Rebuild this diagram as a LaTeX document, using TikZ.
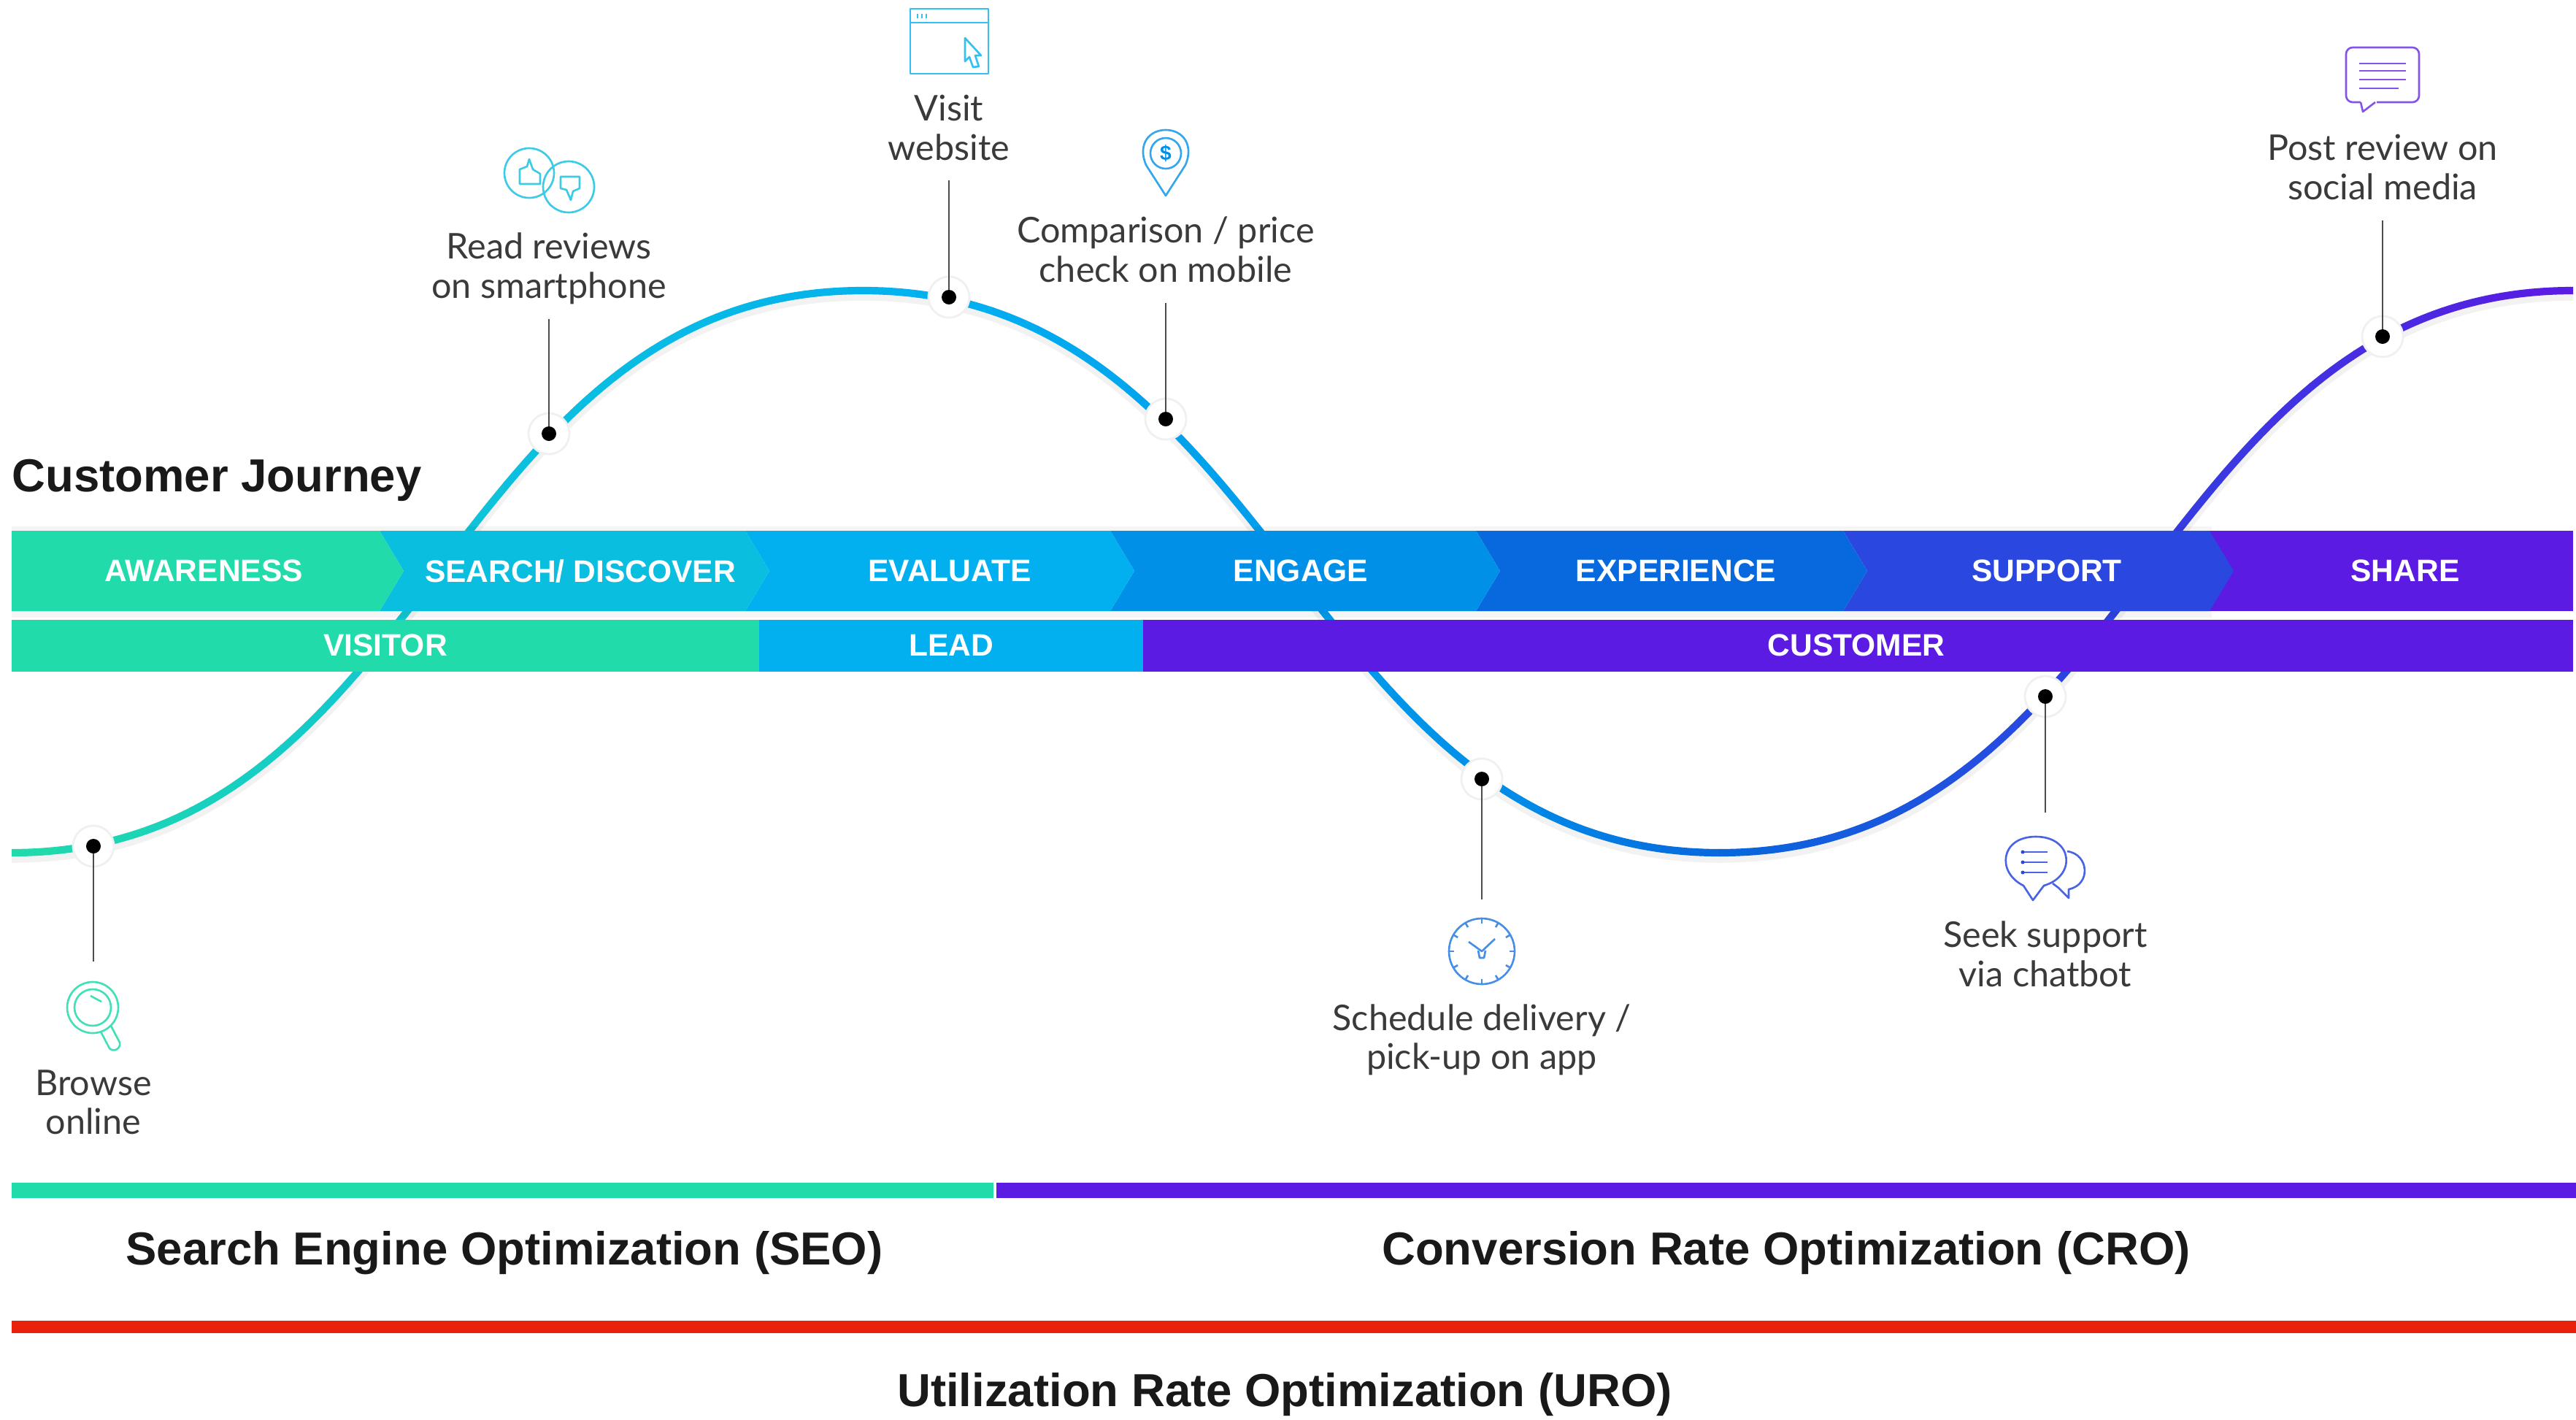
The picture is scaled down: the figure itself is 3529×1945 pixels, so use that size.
\documentclass[tikz,border=0pt]{standalone}
\usepackage{fontspec}
\setmainfont{Lato}
\newfontfamily\headfont{Liberation Sans}
\usetikzlibrary{arrows.meta,positioning}
\definecolor{cjgreen}{RGB}{33,219,170}
\definecolor{cjcyan}{RGB}{10,190,224}
\definecolor{cjsky}{RGB}{2,176,240}
\definecolor{cjazure}{RGB}{0,144,232}
\definecolor{cjblue}{RGB}{8,104,221}
\definecolor{cjindigo}{RGB}{42,71,224}
\definecolor{cjviolet}{RGB}{91,27,227}
\definecolor{cjred}{RGB}{232,32,12}
\definecolor{cjtext}{RGB}{58,58,58}
\tikzset{
	% curve
	cjcurve/.style   ={line width=2.9pt},
	cjleader/.style  ={line width=.7pt,draw=black!70},
	% dot
	cjhalo/.style    ={circle,fill=white,draw=black!6,line width=.8pt,minimum size=.56cm,inner sep=0pt},
	cjdot/.style     ={circle,fill=black,minimum size=.2cm,inner sep=0pt},
	% node
	cjstage/.style   ={text=white,font=\headfont\bfseries\fontsize{12.1}{14}\selectfont},
	cjlabel/.style   ={text=cjtext,align=center,font=\fontsize{13.8}{15.2}\selectfont},
	cjhead/.style    ={text=black!90,font=\headfont\bfseries\fontsize{18.05}{22}\selectfont},
	% icon
	cjicon/.style    ={line width=.75pt,line join=round}
}
\def\cjwave{(16,1168) .. controls (590,1168) and (610,398) .. (1182,398) .. controls (1755,398) and (1785,1168) .. (2356,1168) .. controls (2930,1168) and (2950,398) .. (3525,398)}
\begin{document}
\begin{tikzpicture}[x=.01cm,y=-.01cm]
	\useasboundingbox (0,0) rectangle (3529,1945);
	% wave behind the bars
	\draw[cjcurve,line width=5pt,black!5,yshift=-.05cm] \cjwave;
	\foreach \xa/\xb/\ca/\cb in {16/752/cjgreen/cjcyan,752/1300/cjcyan/cjsky,1300/2030/cjsky/cjazure,2030/2356/cjazure/cjblue,2356/2802/cjblue/cjindigo,2802/3525/cjindigo/cjviolet}{
		\foreach \i in {0,...,11}{
			\pgfmathsetmacro\xl{\xa+(\xb-\xa)*\i/12}
			\pgfmathsetmacro\xr{\xa+(\xb-\xa)*(\i+1)/12+1}
			\pgfmathsetmacro\pct{100*(\i+.5)/12}
			\colorlet{cjseg}{\cb!\pct!\ca}
			\begin{scope}
				\clip (\xl,0) rectangle (\xr,1945);
				\draw[cjcurve,cjseg] \cjwave;
			\end{scope}
		}
	}
	% stages, last one first so that each tip lies on the next
	\fill[black,fill opacity=.04] (16,721) rectangle (3030,846);
	\fill[cjviolet] (3027,727) -- (3525,727) -- (3525,837) -- (3027,837) -- cycle;
	\foreach \xa/\xb/\col in {2525/3027/cjindigo,2022/2525/cjblue,1521/2022/cjazure,1021/1521/cjsky,520/1021/cjcyan}{
		\fill[\col] (\xa,727) -- (\xb,727) -- ({\xb+33},782) -- (\xb,837) -- (\xa,837) -- ({\xa+33},782) -- cycle;
	}
	\fill[cjgreen] (16,727) -- (520,727) -- (553,782) -- (520,837) -- (16,837) -- cycle;
	\node[cjstage] (awareness) at (279,782) {AWARENESS};
	\node[cjstage] (search) at (795,782) {SEARCH/ DISCOVER};
	\node[cjstage] (evaluate) at (1301,782) {EVALUATE};
	\node[cjstage] (engage) at (1782,782) {ENGAGE};
	\node[cjstage] (experience) at (2296,782) {EXPERIENCE};
	\node[cjstage] (support) at (2804,782) {SUPPORT};
	\node[cjstage] (share) at (3295,782) {SHARE};
	% roles
	\fill[cjgreen] (16,849) rectangle (1040,920);
	\fill[cjsky] (1040,849) rectangle (1566,920);
	\fill[cjviolet] (1566,849) rectangle (3525,920);
	\node[cjstage] (visitor) at (528,884) {VISITOR};
	\node[cjstage] (lead) at (1303,884) {LEAD};
	\node[cjstage] (customer) at (2543,884) {CUSTOMER};
	% touch points
	\foreach \n/\x/\y in {browse/128/1159,read/752/594,visit/1300/407,compare/1597/574,schedule/2030/1067,seek/2802/954,post/3264/461}{
		\node[cjhalo] (halo\n) at (\x,\y) {};
	}
	\coordinate (endbrowse) at (128,1317);
	\coordinate (endread) at (752,437);
	\coordinate (endvisit) at (1300,247);
	\coordinate (endcompare) at (1597,415);
	\coordinate (endschedule) at (2030,1232);
	\coordinate (endseek) at (2802,1113);
	\coordinate (endpost) at (3264,302);
	\foreach \n in {browse,read,visit,compare,schedule,seek,post}{
		\draw[cjleader] (halo\n.center) -- (end\n);
		\node[cjdot] (dot\n) at (halo\n) {};
	}
	\node[cjlabel] (lblbrowse) at (128,1510) {Browse\\online};
	\node[cjlabel] (lblread) at (752,368) {Read reviews\\on smartphone};
	\node[cjlabel] (lblvisit) at (1300,175) {Visit\\website};
	\node[cjlabel] (lblcompare) at (1597,342) {Comparison / price\\check on mobile};
	\node[cjlabel] (lblschedule) at (2030,1424) {Schedule delivery /\\pick-up on app};
	\node[cjlabel] (lblseek) at (2802,1307) {Seek support\\via chatbot};
	\node[cjlabel] (lblpost) at (3264,229) {Post review on\\social media};
	% icons
	\begin{scope}[cjicon,draw=cjgreen!85]
		\draw (127,1380) circle (35);
		\draw (127,1380) circle (25);
		\draw (124,1364) -- (139,1372);
		\draw (138,1413) -- (150,1436) .. controls (156,1442) and (166,1436) .. (164,1428) -- (152,1405);
	\end{scope}
	\begin{scope}[cjicon,draw=cjcyan!80]
		\draw (725,237) circle (34);
		\draw (779,256) circle (35);
		\draw (712,252) -- (712,232) -- (722,228) -- (725,218) -- (730,232) -- (740,238) -- (740,252) -- cycle;
		\draw (768,242) -- (794,242) -- (794,258) -- (785,262) -- (782,274) -- (776,260) -- (768,258) -- cycle;
	\end{scope}
	\begin{scope}[cjicon,draw=cjsky!80]
		\draw (1247,12) rectangle (1354,101);
		\draw (1247,31) -- (1354,31);
		\foreach \x in {1257,1263,1269}{\draw[line width=.4pt] (\x,19) -- (\x,25);}
		\draw (1322,52) -- (1344,76) -- (1336,76) -- (1341,91) -- (1333,92) -- (1328,78) -- (1322,84) -- cycle;
	\end{scope}
	\begin{scope}[cjicon,draw=cjazure!80]
		\draw (1597,268) -- (1570,226) .. controls (1558,198) and (1574,178) .. (1597,178) .. controls (1620,178) and (1636,198) .. (1624,226) -- cycle;
		\draw (1597,210) circle (21);
		\node[text=cjazure,font=\headfont\bfseries\fontsize{8}{8}\selectfont] (dollar) at (1597,210) {\$};
	\end{scope}
	\begin{scope}[cjicon,draw=cjblue!75]
		\draw (2030,1303) circle (45);
		\foreach \a in {0,30,...,330}{\draw (2030,1303) ++(\a:45) -- ++(\a+180:7);}
		\draw (2012,1290) -- (2030,1303) -- (2048,1286);
		\draw (2025,1302) -- (2027,1312) -- (2033,1312) -- (2035,1302);
	\end{scope}
	\begin{scope}[cjicon,draw=cjindigo!85]
		\draw (2785,1233) -- (2772,1213) .. controls (2735,1195) and (2740,1146) .. (2789,1146) .. controls (2840,1146) and (2845,1200) .. (2800,1213) -- cycle;
		\draw (2832,1166) .. controls (2862,1170) and (2865,1212) .. (2834,1218) -- (2834,1230) -- (2820,1216) -- (2812,1210);
		\foreach \y in {1167,1181,1195}{
			\draw (2772,\y) -- (2805,\y);
			\fill[cjindigo] (2771,\y) circle (2.5);
		}
	\end{scope}
	\begin{scope}[cjicon,draw=cjviolet!75]
		\draw[rounded corners=.09cm] (3214,65) rectangle (3314,140);
		\fill[white] (3234,136) rectangle (3256,144);
		\draw (3234,140) -- (3237,153) -- (3254,140);
		\foreach \y/\xe in {87/3296,97/3296,109/3296,121/3286}{\draw (3232,\y) -- (\xe,\y);}
	\end{scope}
	% titles
	\node[cjhead,anchor=west,inner sep=0pt] (journey) at (16,658) {Customer Journey};
	\fill[cjgreen] (16,1620) rectangle (1361,1641);
	\fill[cjviolet] (1365,1620) rectangle (3529,1641);
	\fill[cjred] (16,1809) rectangle (3529,1826);
	\node[cjhead] (seo) at (691,1716) {Search Engine Optimization (SEO)};
	\node[cjhead] (cro) at (2447,1716) {Conversion Rate Optimization (CRO)};
	\node[cjhead] (uro) at (1760,1910) {Utilization Rate Optimization (URO)};
\end{tikzpicture}
\end{document}
